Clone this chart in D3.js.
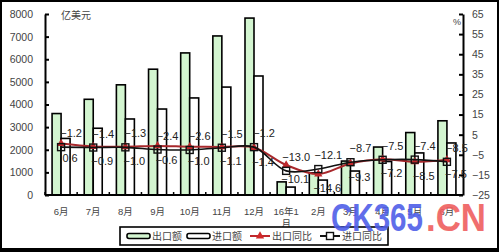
<!DOCTYPE html>
<html>
<head>
<meta charset="utf-8">
<script src="https://cdn.jsdelivr.net/npm/d3@7"></script>
<style>
  body { margin: 0; background: #fff; }
  text { font-family: "Liberation Sans", "Noto Sans CJK SC", sans-serif; }
</style>
</head>
<body>
<div id="body"></div>
<script>
// categories and series
var months = ["6月", "7月", "8月", "9月", "10月", "11月", "12月", "16年1月", "2月", "3月", "4月", "5月", "6月"];
var exportAmt = [3600, 4230, 4870, 5560, 6280, 7030, 7820, 580, 980, 1500, 2120, 2760, 3280];
var importAmt = [2500, 2950, 3360, 3800, 4290, 4770, 5260, 350, 660, 1060, 1480, 1860, 2300];
var exportYoy = [0.6, -0.9, -1.0, -0.6, -1.0, -1.1, -1.4, -10.1, -14.6, -9.3, -7.2, -8.5, -7.5];
var importYoy = [-1.2, -1.4, -1.3, -2.4, -2.6, -1.5, -1.2, -13.0, -12.1, -8.7, -7.5, -7.4, -8.5];
var leftTicks = [0, 1000, 2000, 3000, 4000, 5000, 6000, 7000, 8000];
var rightTicks = [-25, -15, -5, 5, 15, 25, 35, 45, 55, 65];

var W = 499, H = 252;
var margin = { top: 14, right: 36, bottom: 57, left: 45 },
    width = W - margin.left - margin.right,
    height = H - margin.top - margin.bottom;

var svg = d3.select("#body").append("svg")
    .attr("width", W)
    .attr("height", H);

var g = svg.append("g")
    .attr("transform", "translate(" + margin.left + "," + margin.top + ")");

var x = d3.scaleBand().domain(d3.range(months.length)).range([0, width]).padding(0);
var bw = x.bandwidth();
var x1 = d3.scaleBand().domain(["exp", "imp"]).range([bw / 2 - 9, bw / 2 + 9]).padding(0);
var yL = d3.scaleLinear().domain([0, 8000]).range([height, 0]);
var yR = d3.scaleLinear().domain([-25, 65]).range([height, 0]);

var grey = "#444";

// bars
var rows = months.map((m, i) => ({ i: i, exp: exportAmt[i], imp: importAmt[i] }));
var grp = g.selectAll("g.cat").data(rows).enter().append("g")
    .attr("class", "cat")
    .attr("transform", d => "translate(" + x(d.i) + ",0)");

grp.append("rect")
    .attr("x", x1("exp"))
    .attr("width", x1.bandwidth())
    .attr("y", d => yL(d.exp))
    .attr("height", d => height - yL(d.exp))
    .style("fill", "#d3f5d0")
    .style("stroke", "#000")
    .style("stroke-width", 1.6);

grp.append("rect")
    .attr("x", x1("imp"))
    .attr("width", x1.bandwidth())
    .attr("y", d => yL(d.imp))
    .attr("height", d => height - yL(d.imp))
    .style("fill", "#fff")
    .style("stroke", "#000")
    .style("stroke-width", 1.6);

// axes
var axL = g.append("g")
    .call(d3.axisLeft(yL).tickValues(leftTicks).tickFormat(d3.format("d"))
        .tickSizeInner(-4).tickSizeOuter(0).tickPadding(12));
var axR = g.append("g")
    .attr("transform", "translate(" + width + ",0)")
    .call(d3.axisRight(yR).tickValues(rightTicks).tickFormat(d3.format("d"))
        .tickSizeInner(-4).tickSizeOuter(0).tickPadding(9));
[axL, axR].forEach(a => {
    a.select(".domain").style("stroke", "#000").style("stroke-width", 2);
    a.selectAll(".tick line").style("stroke", "#000").style("stroke-width", 2);
    a.selectAll("text").style("font-size", "10.5px").style("fill", grey)
        .style("font-family", "'Liberation Sans', sans-serif");
});

// bottom axis: line, boundary ticks, labels
g.append("line")
    .attr("x1", 0).attr("x2", width)
    .attr("y1", height).attr("y2", height)
    .style("stroke", "#000").style("stroke-width", 2);
g.selectAll("line.xt").data(d3.range(months.length)).enter().append("line")
    .attr("class", "xt")
    .attr("x1", d => x(d)).attr("x2", d => x(d))
    .attr("y1", height).attr("y2", height - 3)
    .style("stroke", "#000").style("stroke-width", 1.5);

var xl = g.selectAll("text.xl").data(months).enter().append("text")
    .attr("class", "xl")
    .attr("text-anchor", "middle")
    .attr("y", height + 20)
    .style("font-size", "9.5px")
    .style("fill", grey);
xl.each(function (d, i) {
    var t = d3.select(this);
    var cx = x(i) + bw / 2;
    if (d.length > 3) {
        t.append("tspan").attr("x", cx).text(d.slice(0, -1));
        t.append("tspan").attr("x", cx).attr("dy", 12).text(d.slice(-1));
    } else {
        t.append("tspan").attr("x", cx).text(d);
    }
});

// lines
var cx = i => x(i) + bw / 2;
var line = vals => d3.line()
    .x((d, i) => cx(i))
    .y(d => yR(d))
    .curve(d3.curveCatmullRom.alpha(0.5))(vals);

g.append("path")
    .attr("d", line(exportYoy))
    .style("fill", "none")
    .style("stroke", "#a8282c")
    .style("stroke-width", 2);

var tri = d3.symbol().type(d3.symbolTriangle).size(30);
g.selectAll("path.tri").data(exportYoy).enter().append("path")
    .attr("class", "tri")
    .attr("d", tri)
    .attr("transform", (d, i) => "translate(" + cx(i) + "," + yR(d) + ")")
    .style("fill", "#c0282c");

g.append("path")
    .attr("d", line(importYoy))
    .style("fill", "none")
    .style("stroke", "#111")
    .style("stroke-width", 1.6);

g.selectAll("rect.sq").data(importYoy).enter().append("rect")
    .attr("class", "sq")
    .attr("x", (d, i) => cx(i) - 3.5)
    .attr("y", d => yR(d) - 3.5)
    .attr("width", 7).attr("height", 7)
    .style("fill", "none")
    .style("stroke", "#111")
    .style("stroke-width", 1.4);

// data labels
var fmt = d3.format(".1f");
g.selectAll("text.li").data(importYoy).enter().append("text")
    .attr("class", "li")
    .attr("text-anchor", "middle")
    .attr("x", (d, i) => cx(i) + 10)
    .attr("y", d => yR(d) - 10)
    .style("font-size", "11px")
    .style("fill", "#222")
    .text(fmt);
g.selectAll("text.le").data(exportYoy).enter().append("text")
    .attr("class", "le")
    .attr("text-anchor", "middle")
    .attr("x", (d, i) => cx(i) + 9)
    .attr("y", d => yR(d) + 18)
    .style("font-size", "11px")
    .style("fill", "#222")
    .text(fmt);

// unit labels
svg.append("text").attr("x", 61).attr("y", 19)
    .style("font-size", "10px").style("fill", grey).text("亿美元");
svg.append("text").attr("x", 453).attr("y", 25)
    .style("font-size", "9px").style("fill", grey).text("%");

// legend
var lg = svg.append("g").attr("transform", "translate(120,227)");
lg.append("rect").attr("width", 268).attr("height", 18)
    .style("fill", "#fff").style("stroke", "#000").style("stroke-width", 1.6);
var items = [
    { name: "出口额", kind: "bar", fill: "#d3f5d0" },
    { name: "进口额", kind: "bar", fill: "#fff" },
    { name: "出口同比", kind: "tri" },
    { name: "进口同比", kind: "sq" }
];
var lx = [7, 67, 130, 200];
items.forEach((it, k) => {
    var ig = lg.append("g").attr("transform", "translate(" + lx[k] + ",0)");
    if (it.kind === "bar") {
        ig.append("rect").attr("x", 0).attr("y", 6.5).attr("width", 23).attr("height", 5).attr("rx", 2)
            .style("fill", it.fill).style("stroke", "#000").style("stroke-width", 1.6);
    } else {
        ig.append("line").attr("x1", 0).attr("x2", 20).attr("y1", 9).attr("y2", 9)
            .style("stroke", it.kind === "tri" ? "#c0282c" : "#111").style("stroke-width", 2);
        if (it.kind === "tri") {
            ig.append("path").attr("d", tri).attr("transform", "translate(10,9)").style("fill", "#d02a2a");
        } else {
            ig.append("rect").attr("x", 6.5).attr("y", 5.5).attr("width", 7).attr("height", 7)
                .style("fill", "#fff").style("stroke", "#111").style("stroke-width", 1.4);
        }
    }
    ig.append("text").attr("x", it.kind === "bar" ? 25 : 22).attr("y", 13)
        .style("font-size", "10px").style("fill", grey).text(it.name);
});

// watermark
svg.append("text").attr("x", 331).attr("y", 231)
    .attr("textLength", 92).attr("lengthAdjust", "spacingAndGlyphs")
    .style("font-size", "38px").style("font-weight", "bold")
    .style("fill", "#4f5fe8").style("opacity", 0.9).text("CK365");
svg.append("text").attr("x", 426).attr("y", 231)
    .attr("textLength", 60).attr("lengthAdjust", "spacingAndGlyphs")
    .style("font-size", "38px").style("font-weight", "bold")
    .style("fill", "#ef5f5f").style("opacity", 0.9).text(".CN");

// outer frame
svg.append("rect").attr("x", 1).attr("y", 1).attr("width", W - 2).attr("height", H - 2)
    .style("fill", "none").style("stroke", "#000").style("stroke-width", 2);
svg.append("rect").attr("x", 0).attr("y", 248).attr("width", W).attr("height", 4)
    .style("fill", "#000");
</script>
</body>
</html>
